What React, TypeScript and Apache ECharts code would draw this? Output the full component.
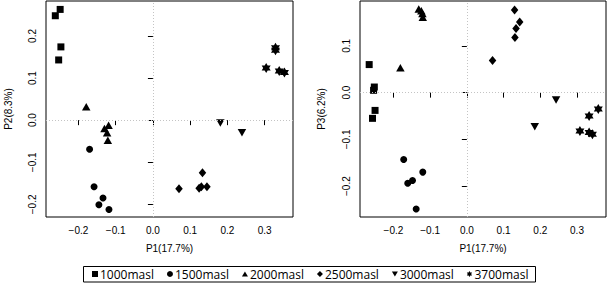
import React, { useEffect, useRef } from "react";
import * as echarts from "echarts";

const groups = ["1000masl", "1500masl", "2000masl", "2500masl", "3000masl", "3700masl"];

// P1 vs P2 (left panel)
const p12_1000 = [[-0.262, 0.248], [-0.249, 0.263], [-0.247, 0.174], [-0.253, 0.143]];
const p12_1500 = [[-0.170, -0.069], [-0.158, -0.158], [-0.134, -0.185], [-0.145, -0.201], [-0.118, -0.212]];
const p12_2000 = [[-0.179, 0.032], [-0.130, -0.020], [-0.119, -0.012], [-0.123, -0.030], [-0.121, -0.048]];
const p12_2500 = [[0.070, -0.163], [0.133, -0.125], [0.130, -0.158], [0.145, -0.158], [0.124, -0.162]];
const p12_3000 = [[0.181, -0.007], [0.239, -0.030]];
const p12_3700 = [[0.329, 0.166], [0.329, 0.172], [0.304, 0.124], [0.339, 0.117], [0.353, 0.113]];

// P1 vs P3 (right panel)
const p13_1000 = [[-0.266, 0.060], [-0.252, 0.012], [-0.254, 0.005], [-0.250, -0.038], [-0.257, -0.055]];
const p13_1500 = [[-0.172, -0.143], [-0.120, -0.170], [-0.161, -0.194], [-0.148, -0.188], [-0.138, -0.249]];
const p13_2000 = [[-0.181, 0.053], [-0.131, 0.179], [-0.124, 0.175], [-0.121, 0.169], [-0.120, 0.161]];
const p13_2500 = [[0.130, 0.177], [0.144, 0.151], [0.134, 0.137], [0.131, 0.118], [0.070, 0.069]];
const p13_3000 = [[0.243, -0.016], [0.185, -0.073]];
const p13_3700 = [[0.358, -0.035], [0.333, -0.050], [0.308, -0.082], [0.333, -0.085], [0.342, -0.089]];

const xTicks = [-0.2, -0.1, 0, 0.1, 0.2, 0.3];
const y2Ticks = [-0.2, -0.1, 0, 0.1, 0.2];
const y3Ticks = [-0.2, -0.1, 0, 0.1];

const leftData = [p12_1000, p12_1500, p12_2000, p12_2500, p12_3000, p12_3700];
const rightData = [p13_1000, p13_1500, p13_2000, p13_2500, p13_3000, p13_3700];

const STAR = "path://M0,-1L0.2887,-0.5L0.866,-0.5L0.577,0L0.866,0.5L0.2887,0.5L0,1L-0.2887,0.5L-0.866,0.5L-0.577,0L-0.866,-0.5L-0.2887,-0.5Z";
const DOWN = "path://M0,0L10,0L5,8.66Z";
const UP = "path://M5,0L10,8.66L0,8.66Z";
const symbols = ["rect", "circle", UP, "diamond", DOWN, STAR];
const sizes = [7, 7, [8.5, 7.5], [7.5, 9], [8.5, 7.5], [9, 10]];

const fmt = (v: number) => (v < 0 ? "\u2212" : "") + Math.abs(v).toFixed(1);
const FONT = "Liberation Sans";

function xAxisDef(gridIndex: number, min: number, max: number) {
  return {
    type: "value",
    gridIndex,
    min,
    max,
    name: "P1(17.7%)",
    nameLocation: "middle",
    nameGap: 26,
    nameTextStyle: { fontFamily: FONT, fontSize: 10, color: "#000" },
    axisLine: { show: false },
    splitLine: { show: false },
    axisTick: { show: true, length: 5, lineStyle: { color: "#000" }, customValues: xTicks },
    axisLabel: { fontFamily: FONT, fontSize: 10, color: "#000", margin: 8, customValues: xTicks, formatter: fmt },
  };
}

function yAxisDef(gridIndex: number, min: number, max: number, name: string, ticks: number[], gap: number) {
  return {
    type: "value",
    gridIndex,
    min,
    max,
    name,
    nameLocation: "middle",
    nameGap: gap,
    nameTextStyle: { fontFamily: FONT, fontSize: 10, color: "#000" },
    axisLine: { show: false },
    splitLine: { show: false },
    axisTick: { show: true, length: 5, lineStyle: { color: "#000" }, customValues: ticks },
    axisLabel: {
      fontFamily: FONT,
      fontSize: 10,
      color: "#000",
      margin: 9,
      rotate: 90,
      customValues: ticks,
      formatter: fmt,
    },
  };
}

export default function App() {
  const ref = useRef<HTMLDivElement>(null);
  useEffect(() => {
    if (!ref.current) return;
    const chart = echarts.init(ref.current, undefined, { renderer: "svg" });
    const series: any[] = [];
    [leftData, rightData].forEach((panel, pi) => {
      panel.forEach((data, gi) => {
        const s: any = {
          type: "scatter",
          name: groups[gi],
          xAxisIndex: pi,
          yAxisIndex: pi,
          data,
          symbol: symbols[gi],
          symbolSize: sizes[gi],
          itemStyle: { color: "#000", opacity: 1 },
          silent: true,
        };
        if (gi === 0) {
          s.markLine = {
            silent: true,
            symbol: "none",
            label: { show: false },
            lineStyle: { type: [1, 2], color: "#c4c4c4", width: 1 },
            data: [{ xAxis: 0 }, { yAxis: 0 }],
          };
        }
        series.push(s);
      });
    });
    chart.setOption({
      animation: false,
      backgroundColor: "#fff",
      grid: [
        { left: 46, right: 316, top: 1, bottom: 70, show: true, borderColor: "#000", borderWidth: 1 },
        { left: 360, right: 3, top: 1, bottom: 70, show: true, borderColor: "#000", borderWidth: 1 },
      ],
      xAxis: [xAxisDef(0, -0.287, 0.376), xAxisDef(1, -0.291, 0.379)],
      yAxis: [
        yAxisDef(0, -0.23, 0.283, "P2(8.3%)", y2Ticks, 33),
        yAxisDef(1, -0.266, 0.196, "P3(6.2%)", y3Ticks, 34),
      ],
      legend: {
        data: groups,
        left: 92,
        top: 268,
        padding: 0,
        itemGap: 13,
        itemWidth: 6,
        itemHeight: 6,
        textStyle: { fontFamily: "Open Sans", fontSize: 12, color: "#000", padding: [0, 0, 0, -3] },
        selectedMode: false,
      },
      graphic: [
        {
          type: "rect",
          shape: { x: 83.5, y: 266.5, width: 452, height: 15.5 },
          style: { fill: "none", stroke: "#000", lineWidth: 1 },
          silent: true,
        },
      ],
      series,
    });
    return () => chart.dispose();
  }, []);
  return <div ref={ref} style={{ position: "fixed", left: 0, top: 0, width: 609, height: 287 }} />;
}
